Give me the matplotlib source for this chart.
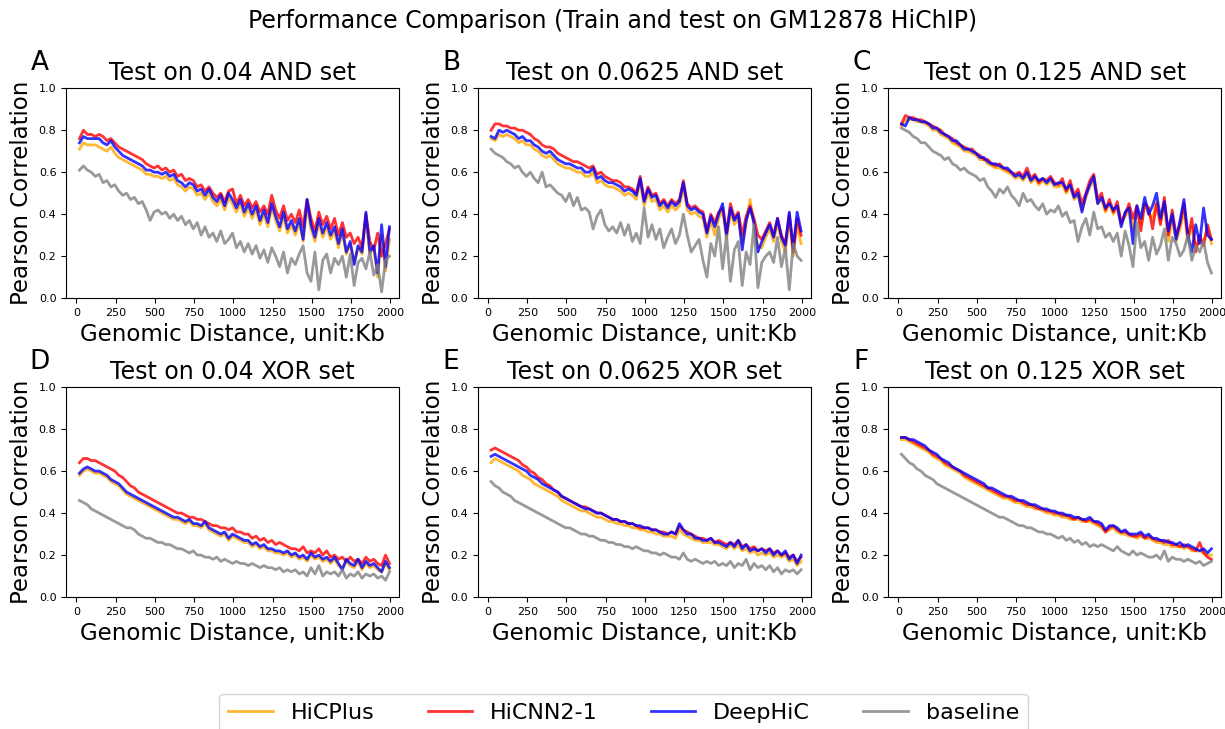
import matplotlib
matplotlib.use("Agg")
import matplotlib.pyplot as plt

# genomic distance bins (Kb)
dist = [20, 45, 70, 95, 120, 145, 170, 195, 220, 245,
        270, 295, 320, 345, 370, 395, 420, 445, 470, 495,
        520, 545, 570, 595, 620, 645, 670, 695, 720, 745,
        770, 795, 820, 845, 870, 895, 920, 945, 970, 995,
        1020, 1045, 1070, 1095, 1120, 1145, 1170, 1195, 1220, 1245,
        1270, 1295, 1320, 1345, 1370, 1395, 1420, 1445, 1470, 1495,
        1520, 1545, 1570, 1595, 1620, 1645, 1670, 1695, 1720, 1745,
        1770, 1795, 1820, 1845, 1870, 1895, 1920, 1945, 1970, 1995]

methods = ["HiCPlus", "HiCNN2-1", "DeepHiC", "baseline"]
colors = ["orange", "red", "blue", "gray"]

# ---- A: 0.04 AND
a_hicplus = [0.71, 0.74, 0.73, 0.73, 0.73, 0.72, 0.71, 0.70, 0.72, 0.69,
             0.67, 0.66, 0.65, 0.64, 0.63, 0.62, 0.61, 0.59, 0.59, 0.58,
             0.58, 0.57, 0.58, 0.56, 0.57, 0.54, 0.53, 0.51, 0.53, 0.52,
             0.49, 0.50, 0.47, 0.50, 0.46, 0.44, 0.47, 0.42, 0.48, 0.45,
             0.41, 0.45, 0.39, 0.43, 0.38, 0.42, 0.35, 0.40, 0.34, 0.43,
             0.37, 0.32, 0.39, 0.31, 0.35, 0.30, 0.36, 0.27, 0.44, 0.33,
             0.27, 0.36, 0.29, 0.34, 0.28, 0.32, 0.24, 0.31, 0.21, 0.26,
             0.17, 0.24, 0.21, 0.38, 0.21, 0.24, 0.10, 0.30, 0.13, 0.28]
a_hicnn = [0.76, 0.80, 0.78, 0.78, 0.77, 0.78, 0.77, 0.75, 0.76, 0.74,
           0.72, 0.71, 0.70, 0.69, 0.68, 0.67, 0.66, 0.64, 0.63, 0.62,
           0.63, 0.61, 0.62, 0.60, 0.61, 0.58, 0.59, 0.56, 0.57, 0.56,
           0.53, 0.54, 0.51, 0.53, 0.50, 0.48, 0.50, 0.46, 0.51, 0.52,
           0.45, 0.49, 0.44, 0.47, 0.43, 0.46, 0.41, 0.44, 0.40, 0.49,
           0.42, 0.38, 0.44, 0.37, 0.40, 0.36, 0.42, 0.34, 0.47, 0.38,
           0.32, 0.41, 0.35, 0.39, 0.33, 0.38, 0.30, 0.36, 0.29, 0.31,
           0.26, 0.29, 0.24, 0.40, 0.27, 0.23, 0.31, 0.20, 0.26, 0.33]
a_deephic = [0.74, 0.77, 0.76, 0.76, 0.76, 0.76, 0.74, 0.73, 0.75, 0.72,
             0.70, 0.68, 0.67, 0.66, 0.65, 0.64, 0.63, 0.61, 0.61, 0.60,
             0.60, 0.59, 0.60, 0.58, 0.59, 0.56, 0.55, 0.53, 0.55, 0.54,
             0.51, 0.52, 0.49, 0.52, 0.48, 0.46, 0.49, 0.44, 0.50, 0.47,
             0.43, 0.47, 0.41, 0.45, 0.40, 0.44, 0.37, 0.42, 0.36, 0.45,
             0.39, 0.34, 0.41, 0.33, 0.37, 0.32, 0.38, 0.28, 0.47, 0.35,
             0.29, 0.38, 0.31, 0.36, 0.30, 0.34, 0.26, 0.33, 0.22, 0.27,
             0.16, 0.25, 0.22, 0.41, 0.22, 0.25, 0.12, 0.35, 0.15, 0.34]
a_base = [0.61, 0.63, 0.61, 0.60, 0.58, 0.59, 0.55, 0.56, 0.53, 0.54,
          0.51, 0.49, 0.50, 0.47, 0.48, 0.45, 0.46, 0.42, 0.37, 0.41,
          0.42, 0.40, 0.41, 0.38, 0.40, 0.37, 0.39, 0.35, 0.37, 0.33,
          0.36, 0.30, 0.34, 0.29, 0.31, 0.27, 0.32, 0.26, 0.28, 0.31,
          0.24, 0.27, 0.22, 0.26, 0.21, 0.25, 0.19, 0.23, 0.17, 0.24,
          0.20, 0.15, 0.22, 0.12, 0.19, 0.16, 0.21, 0.25, 0.12, 0.08,
          0.22, 0.04, 0.18, 0.21, 0.12, 0.19, 0.16, 0.20, 0.10, 0.21,
          0.06, 0.17, 0.19, 0.14, 0.22, 0.11, 0.16, 0.03, 0.18, 0.20]

# ---- B: 0.0625 AND
b_hicplus = [0.76, 0.75, 0.78, 0.77, 0.78, 0.77, 0.76, 0.74, 0.75, 0.73,
             0.73, 0.71, 0.70, 0.68, 0.67, 0.68, 0.66, 0.64, 0.63, 0.62,
             0.62, 0.61, 0.60, 0.60, 0.58, 0.58, 0.60, 0.55, 0.56, 0.54,
             0.53, 0.53, 0.52, 0.51, 0.49, 0.50, 0.49, 0.47, 0.55, 0.44,
             0.50, 0.46, 0.47, 0.42, 0.44, 0.41, 0.44, 0.42, 0.44, 0.53,
             0.42, 0.40, 0.41, 0.39, 0.38, 0.29, 0.37, 0.30, 0.38, 0.42,
             0.28, 0.41, 0.35, 0.38, 0.26, 0.35, 0.47, 0.34, 0.25, 0.24,
             0.29, 0.33, 0.27, 0.36, 0.27, 0.22, 0.38, 0.20, 0.35, 0.26]
b_hicnn = [0.80, 0.83, 0.83, 0.82, 0.82, 0.81, 0.81, 0.80, 0.80, 0.79,
           0.78, 0.76, 0.75, 0.73, 0.72, 0.72, 0.71, 0.69, 0.68, 0.67,
           0.66, 0.65, 0.65, 0.64, 0.63, 0.62, 0.63, 0.59, 0.60, 0.58,
           0.57, 0.56, 0.56, 0.55, 0.53, 0.53, 0.52, 0.50, 0.58, 0.47,
           0.53, 0.49, 0.50, 0.45, 0.47, 0.44, 0.47, 0.45, 0.47, 0.56,
           0.45, 0.43, 0.44, 0.42, 0.41, 0.32, 0.40, 0.36, 0.41, 0.43,
           0.31, 0.45, 0.38, 0.41, 0.30, 0.39, 0.44, 0.38, 0.30, 0.28,
           0.32, 0.36, 0.30, 0.38, 0.30, 0.26, 0.40, 0.22, 0.38, 0.30]
b_deephic = [0.77, 0.76, 0.80, 0.79, 0.80, 0.79, 0.78, 0.76, 0.77, 0.75,
             0.75, 0.73, 0.72, 0.70, 0.69, 0.70, 0.68, 0.66, 0.65, 0.64,
             0.64, 0.63, 0.62, 0.62, 0.60, 0.60, 0.62, 0.57, 0.58, 0.56,
             0.55, 0.55, 0.54, 0.53, 0.51, 0.52, 0.51, 0.49, 0.57, 0.46,
             0.52, 0.48, 0.49, 0.44, 0.46, 0.43, 0.46, 0.44, 0.46, 0.55,
             0.44, 0.42, 0.43, 0.41, 0.40, 0.31, 0.39, 0.34, 0.40, 0.45,
             0.30, 0.43, 0.37, 0.40, 0.23, 0.37, 0.43, 0.36, 0.22, 0.27,
             0.31, 0.35, 0.29, 0.38, 0.29, 0.25, 0.41, 0.24, 0.41, 0.32]
b_base = [0.71, 0.69, 0.68, 0.67, 0.65, 0.64, 0.62, 0.63, 0.60, 0.58,
          0.60, 0.57, 0.55, 0.60, 0.53, 0.54, 0.52, 0.50, 0.49, 0.46,
          0.50, 0.44, 0.48, 0.42, 0.43, 0.41, 0.33, 0.39, 0.42, 0.35,
          0.32, 0.34, 0.31, 0.36, 0.30, 0.35, 0.27, 0.31, 0.26, 0.43,
          0.29, 0.35, 0.28, 0.33, 0.24, 0.29, 0.33, 0.26, 0.30, 0.40,
          0.30, 0.22, 0.25, 0.28, 0.18, 0.10, 0.26, 0.20, 0.34, 0.14,
          0.30, 0.08, 0.23, 0.27, 0.06, 0.22, 0.16, 0.35, 0.05, 0.17,
          0.20, 0.22, 0.17, 0.29, 0.15, 0.24, 0.04, 0.26, 0.20, 0.18]

# ---- C: 0.125 AND
c_hicplus = [0.82, 0.85, 0.85, 0.85, 0.84, 0.84, 0.83, 0.82, 0.80, 0.80,
             0.78, 0.77, 0.76, 0.74, 0.73, 0.72, 0.70, 0.70, 0.69, 0.68,
             0.66, 0.66, 0.64, 0.63, 0.62, 0.62, 0.61, 0.60, 0.59, 0.57,
             0.58, 0.56, 0.59, 0.55, 0.57, 0.54, 0.56, 0.54, 0.56, 0.53,
             0.53, 0.54, 0.50, 0.53, 0.47, 0.49, 0.42, 0.48, 0.53, 0.56,
             0.45, 0.47, 0.41, 0.45, 0.40, 0.43, 0.35, 0.39, 0.43, 0.33,
             0.42, 0.35, 0.45, 0.40, 0.38, 0.46, 0.36, 0.44, 0.27, 0.38,
             0.27, 0.33, 0.42, 0.27, 0.34, 0.24, 0.28, 0.27, 0.33, 0.26]
c_hicnn = [0.83, 0.87, 0.86, 0.86, 0.85, 0.85, 0.84, 0.83, 0.82, 0.81,
           0.80, 0.78, 0.77, 0.76, 0.74, 0.73, 0.72, 0.71, 0.71, 0.69,
           0.68, 0.66, 0.66, 0.64, 0.63, 0.64, 0.62, 0.61, 0.60, 0.59,
           0.60, 0.58, 0.62, 0.57, 0.59, 0.55, 0.57, 0.56, 0.58, 0.55,
           0.54, 0.57, 0.51, 0.56, 0.49, 0.52, 0.45, 0.50, 0.56, 0.59,
           0.47, 0.50, 0.42, 0.47, 0.41, 0.46, 0.36, 0.40, 0.45, 0.38,
           0.44, 0.32, 0.45, 0.43, 0.33, 0.45, 0.35, 0.48, 0.30, 0.42,
           0.30, 0.35, 0.45, 0.28, 0.38, 0.22, 0.30, 0.25, 0.35, 0.28]
c_deephic = [0.83, 0.82, 0.86, 0.85, 0.85, 0.84, 0.84, 0.83, 0.81, 0.81,
             0.79, 0.78, 0.77, 0.75, 0.75, 0.73, 0.71, 0.71, 0.70, 0.69,
             0.67, 0.67, 0.65, 0.64, 0.64, 0.63, 0.62, 0.62, 0.60, 0.58,
             0.59, 0.57, 0.60, 0.56, 0.58, 0.56, 0.57, 0.55, 0.57, 0.54,
             0.55, 0.55, 0.52, 0.54, 0.48, 0.50, 0.41, 0.49, 0.54, 0.58,
             0.45, 0.48, 0.43, 0.45, 0.42, 0.44, 0.34, 0.41, 0.43, 0.26,
             0.44, 0.38, 0.48, 0.40, 0.44, 0.50, 0.38, 0.46, 0.32, 0.40,
             0.28, 0.37, 0.47, 0.30, 0.22, 0.35, 0.26, 0.43, 0.30, 0.28]
c_base = [0.81, 0.80, 0.79, 0.77, 0.76, 0.74, 0.74, 0.72, 0.70, 0.69,
          0.68, 0.66, 0.67, 0.64, 0.63, 0.61, 0.62, 0.60, 0.59, 0.58,
          0.56, 0.57, 0.53, 0.51, 0.48, 0.52, 0.50, 0.53, 0.49, 0.47,
          0.44, 0.50, 0.46, 0.47, 0.44, 0.42, 0.45, 0.40, 0.42, 0.41,
          0.44, 0.39, 0.41, 0.36, 0.37, 0.27, 0.34, 0.38, 0.30, 0.41,
          0.33, 0.34, 0.29, 0.31, 0.27, 0.31, 0.20, 0.32, 0.25, 0.15,
          0.36, 0.24, 0.27, 0.18, 0.29, 0.21, 0.25, 0.33, 0.18, 0.29,
          0.26, 0.20, 0.23, 0.30, 0.18, 0.25, 0.22, 0.27, 0.17, 0.12]

# ---- D: 0.04 XOR
d_hicplus = [0.58, 0.60, 0.61, 0.60, 0.59, 0.59, 0.58, 0.57, 0.55, 0.54,
             0.53, 0.51, 0.49, 0.48, 0.47, 0.46, 0.45, 0.44, 0.43, 0.42,
             0.41, 0.40, 0.39, 0.38, 0.37, 0.37, 0.36, 0.35, 0.36, 0.34,
             0.34, 0.33, 0.35, 0.32, 0.31, 0.30, 0.29, 0.30, 0.27, 0.29,
             0.28, 0.27, 0.26, 0.26, 0.24, 0.25, 0.23, 0.24, 0.22, 0.22,
             0.21, 0.21, 0.20, 0.21, 0.19, 0.20, 0.18, 0.19, 0.17, 0.20,
             0.18, 0.19, 0.17, 0.18, 0.16, 0.18, 0.15, 0.14, 0.17, 0.15,
             0.14, 0.17, 0.13, 0.16, 0.14, 0.15, 0.13, 0.12, 0.16, 0.13]
d_hicnn = [0.64, 0.66, 0.66, 0.65, 0.65, 0.64, 0.63, 0.62, 0.61, 0.60,
           0.58, 0.57, 0.55, 0.53, 0.52, 0.50, 0.49, 0.48, 0.47, 0.46,
           0.45, 0.44, 0.43, 0.42, 0.41, 0.40, 0.40, 0.39, 0.38, 0.38,
           0.37, 0.37, 0.36, 0.35, 0.34, 0.34, 0.33, 0.33, 0.32, 0.33,
           0.31, 0.31, 0.30, 0.30, 0.28, 0.29, 0.27, 0.28, 0.26, 0.27,
           0.25, 0.26, 0.25, 0.24, 0.23, 0.23, 0.22, 0.24, 0.21, 0.22,
           0.21, 0.23, 0.20, 0.22, 0.19, 0.20, 0.18, 0.19, 0.17, 0.19,
           0.17, 0.18, 0.16, 0.19, 0.17, 0.18, 0.16, 0.15, 0.20, 0.16]
d_deephic = [0.59, 0.61, 0.62, 0.61, 0.60, 0.60, 0.59, 0.58, 0.56, 0.55,
             0.54, 0.52, 0.50, 0.49, 0.48, 0.47, 0.46, 0.45, 0.44, 0.43,
             0.42, 0.41, 0.40, 0.39, 0.38, 0.38, 0.37, 0.36, 0.37, 0.35,
             0.35, 0.34, 0.36, 0.33, 0.32, 0.31, 0.30, 0.31, 0.28, 0.30,
             0.29, 0.28, 0.27, 0.27, 0.25, 0.26, 0.24, 0.25, 0.23, 0.23,
             0.22, 0.22, 0.21, 0.22, 0.20, 0.21, 0.19, 0.20, 0.18, 0.21,
             0.19, 0.20, 0.18, 0.19, 0.17, 0.19, 0.16, 0.13, 0.18, 0.16,
             0.15, 0.18, 0.14, 0.17, 0.15, 0.16, 0.14, 0.12, 0.17, 0.14]
d_base = [0.46, 0.45, 0.44, 0.42, 0.41, 0.40, 0.39, 0.38, 0.37, 0.36,
          0.35, 0.34, 0.33, 0.33, 0.32, 0.30, 0.29, 0.28, 0.28, 0.27,
          0.26, 0.26, 0.25, 0.25, 0.24, 0.23, 0.23, 0.22, 0.21, 0.22,
          0.20, 0.20, 0.19, 0.19, 0.18, 0.19, 0.17, 0.18, 0.17, 0.16,
          0.17, 0.16, 0.16, 0.15, 0.16, 0.15, 0.14, 0.15, 0.14, 0.14,
          0.13, 0.14, 0.12, 0.13, 0.12, 0.13, 0.11, 0.12, 0.10, 0.14,
          0.11, 0.15, 0.10, 0.12, 0.11, 0.12, 0.10, 0.13, 0.09, 0.11,
          0.10, 0.12, 0.09, 0.11, 0.10, 0.11, 0.09, 0.10, 0.08, 0.12]

# ---- E: 0.0625 XOR
e_hicplus = [0.64, 0.66, 0.65, 0.64, 0.63, 0.62, 0.61, 0.60, 0.58, 0.57,
             0.56, 0.54, 0.53, 0.52, 0.51, 0.50, 0.49, 0.48, 0.46, 0.45,
             0.44, 0.43, 0.42, 0.41, 0.41, 0.40, 0.39, 0.38, 0.38, 0.37,
             0.36, 0.36, 0.35, 0.35, 0.34, 0.34, 0.33, 0.33, 0.32, 0.32,
             0.31, 0.31, 0.30, 0.30, 0.29, 0.29, 0.29, 0.28, 0.32, 0.30,
             0.29, 0.28, 0.27, 0.27, 0.26, 0.26, 0.26, 0.25, 0.25, 0.24,
             0.23, 0.25, 0.23, 0.25, 0.22, 0.23, 0.21, 0.22, 0.20, 0.21,
             0.20, 0.21, 0.19, 0.20, 0.19, 0.20, 0.17, 0.18, 0.15, 0.17]
e_hicnn = [0.70, 0.71, 0.70, 0.69, 0.68, 0.67, 0.66, 0.65, 0.63, 0.62,
           0.60, 0.59, 0.57, 0.56, 0.54, 0.53, 0.51, 0.50, 0.48, 0.47,
           0.46, 0.45, 0.44, 0.43, 0.43, 0.42, 0.41, 0.40, 0.40, 0.39,
           0.38, 0.37, 0.37, 0.36, 0.36, 0.35, 0.35, 0.34, 0.33, 0.33,
           0.33, 0.32, 0.32, 0.31, 0.31, 0.30, 0.31, 0.30, 0.34, 0.32,
           0.31, 0.30, 0.29, 0.28, 0.28, 0.27, 0.28, 0.26, 0.27, 0.26,
           0.25, 0.26, 0.25, 0.27, 0.24, 0.25, 0.23, 0.24, 0.22, 0.23,
           0.22, 0.23, 0.21, 0.22, 0.20, 0.21, 0.19, 0.20, 0.17, 0.19]
e_deephic = [0.67, 0.68, 0.67, 0.66, 0.65, 0.64, 0.63, 0.62, 0.61, 0.60,
             0.58, 0.57, 0.56, 0.54, 0.53, 0.52, 0.51, 0.50, 0.48, 0.47,
             0.46, 0.45, 0.44, 0.43, 0.42, 0.42, 0.41, 0.40, 0.40, 0.39,
             0.38, 0.37, 0.37, 0.36, 0.36, 0.35, 0.35, 0.34, 0.34, 0.33,
             0.33, 0.32, 0.32, 0.31, 0.30, 0.30, 0.31, 0.30, 0.35, 0.32,
             0.30, 0.30, 0.28, 0.28, 0.27, 0.27, 0.28, 0.26, 0.26, 0.25,
             0.24, 0.26, 0.24, 0.27, 0.23, 0.25, 0.22, 0.23, 0.22, 0.23,
             0.21, 0.23, 0.20, 0.22, 0.20, 0.22, 0.18, 0.20, 0.16, 0.20]
e_base = [0.55, 0.53, 0.52, 0.50, 0.49, 0.48, 0.46, 0.45, 0.44, 0.43,
          0.42, 0.41, 0.40, 0.39, 0.38, 0.37, 0.36, 0.35, 0.34, 0.33,
          0.33, 0.32, 0.31, 0.30, 0.30, 0.29, 0.29, 0.28, 0.27, 0.27,
          0.26, 0.26, 0.25, 0.25, 0.24, 0.24, 0.23, 0.24, 0.23, 0.22,
          0.22, 0.21, 0.21, 0.20, 0.21, 0.20, 0.19, 0.19, 0.18, 0.21,
          0.18, 0.17, 0.18, 0.17, 0.16, 0.17, 0.16, 0.17, 0.15, 0.16,
          0.15, 0.17, 0.14, 0.16, 0.15, 0.18, 0.13, 0.16, 0.14, 0.15,
          0.13, 0.15, 0.12, 0.14, 0.11, 0.13, 0.12, 0.13, 0.11, 0.13]

# ---- F: 0.125 XOR
f_hicplus = [0.75, 0.75, 0.74, 0.73, 0.72, 0.71, 0.70, 0.69, 0.67, 0.66,
             0.65, 0.63, 0.62, 0.61, 0.60, 0.59, 0.57, 0.56, 0.55, 0.54,
             0.53, 0.52, 0.51, 0.50, 0.49, 0.48, 0.47, 0.47, 0.46, 0.45,
             0.45, 0.44, 0.43, 0.43, 0.42, 0.42, 0.41, 0.40, 0.40, 0.39,
             0.39, 0.38, 0.38, 0.37, 0.37, 0.37, 0.36, 0.36, 0.36, 0.35,
             0.34, 0.33, 0.31, 0.32, 0.33, 0.31, 0.30, 0.30, 0.29, 0.29,
             0.28, 0.29, 0.28, 0.28, 0.27, 0.26, 0.26, 0.25, 0.25, 0.24,
             0.24, 0.24, 0.23, 0.24, 0.22, 0.22, 0.22, 0.21, 0.20, 0.20]
f_hicnn = [0.76, 0.76, 0.75, 0.74, 0.73, 0.72, 0.71, 0.70, 0.68, 0.67,
           0.66, 0.64, 0.63, 0.62, 0.61, 0.60, 0.58, 0.57, 0.56, 0.55,
           0.54, 0.53, 0.52, 0.51, 0.50, 0.49, 0.48, 0.48, 0.47, 0.46,
           0.46, 0.45, 0.44, 0.44, 0.43, 0.42, 0.42, 0.41, 0.41, 0.40,
           0.40, 0.39, 0.39, 0.38, 0.37, 0.38, 0.37, 0.36, 0.37, 0.36,
           0.35, 0.34, 0.31, 0.33, 0.34, 0.32, 0.31, 0.31, 0.30, 0.29,
           0.29, 0.30, 0.28, 0.29, 0.28, 0.27, 0.27, 0.26, 0.27, 0.25,
           0.25, 0.24, 0.25, 0.24, 0.23, 0.22, 0.26, 0.21, 0.19, 0.18]
f_deephic = [0.76, 0.76, 0.75, 0.75, 0.74, 0.73, 0.72, 0.70, 0.69, 0.68,
             0.66, 0.65, 0.64, 0.62, 0.61, 0.60, 0.59, 0.58, 0.57, 0.56,
             0.55, 0.54, 0.52, 0.52, 0.51, 0.50, 0.49, 0.48, 0.48, 0.47,
             0.46, 0.46, 0.45, 0.44, 0.44, 0.43, 0.42, 0.42, 0.41, 0.41,
             0.40, 0.40, 0.39, 0.39, 0.38, 0.38, 0.37, 0.37, 0.38, 0.36,
             0.36, 0.35, 0.32, 0.34, 0.34, 0.33, 0.31, 0.32, 0.30, 0.30,
             0.30, 0.31, 0.29, 0.30, 0.28, 0.28, 0.27, 0.27, 0.26, 0.26,
             0.25, 0.26, 0.24, 0.25, 0.24, 0.23, 0.22, 0.23, 0.21, 0.23]
f_base = [0.68, 0.66, 0.64, 0.63, 0.61, 0.60, 0.58, 0.57, 0.56, 0.54,
          0.53, 0.52, 0.51, 0.50, 0.49, 0.48, 0.47, 0.46, 0.45, 0.44,
          0.43, 0.42, 0.41, 0.40, 0.39, 0.38, 0.38, 0.37, 0.36, 0.35,
          0.34, 0.34, 0.33, 0.33, 0.32, 0.31, 0.31, 0.30, 0.30, 0.29,
          0.28, 0.29, 0.27, 0.28, 0.26, 0.27, 0.25, 0.26, 0.24, 0.25,
          0.24, 0.25, 0.24, 0.23, 0.22, 0.24, 0.22, 0.21, 0.20, 0.22,
          0.20, 0.21, 0.20, 0.19, 0.19, 0.20, 0.18, 0.22, 0.17, 0.19,
          0.18, 0.18, 0.17, 0.18, 0.17, 0.16, 0.17, 0.15, 0.16, 0.17]

letters = ["A", "B", "C", "D", "E", "F"]
titles = ["Test on 0.04 AND set", "Test on 0.0625 AND set", "Test on 0.125 AND set",
          "Test on 0.04 XOR set", "Test on 0.0625 XOR set", "Test on 0.125 XOR set"]
panel_data = [
    [a_hicplus, a_hicnn, a_deephic, a_base],
    [b_hicplus, b_hicnn, b_deephic, b_base],
    [c_hicplus, c_hicnn, c_deephic, c_base],
    [d_hicplus, d_hicnn, d_deephic, d_base],
    [e_hicplus, e_hicnn, e_deephic, e_base],
    [f_hicplus, f_hicnn, f_deephic, f_base],
]

fig = plt.figure(figsize=(12.25, 7.29), dpi=100)
fig.suptitle("Performance Comparison (Train and test on GM12878 HiChIP)",
             fontsize=17, y=0.987)

lefts = [0.054, 0.390, 0.725]
bottoms = [0.591, 0.181]
w, h = 0.272, 0.288

handles = []
for i in range(6):
    ax = fig.add_axes([lefts[i % 3], bottoms[i // 3], w, h])
    for series, name, c in zip(panel_data[i], methods, colors):
        ln, = ax.plot(dist, series, color=c, lw=2, alpha=0.8, label=name)
        if i == 0:
            handles.append(ln)
    ax.set_xlim(-65, 2058)
    ax.set_ylim(0, 1.0)
    ax.set_xticks([0, 250, 500, 750, 1000, 1250, 1500, 1750, 2000])
    ax.set_yticks([0.0, 0.2, 0.4, 0.6, 0.8, 1.0])
    ax.tick_params(labelsize=8)
    ax.set_title(titles[i], fontsize=17)
    ax.set_xlabel("Genomic Distance, unit:Kb", fontsize=16.5)
    ax.set_ylabel("Pearson Correlation", fontsize=16.5)
    ax.text(-0.08, 1.06, letters[i], transform=ax.transAxes, fontsize=19,
            ha="center", va="bottom")

fig.legend(handles, methods, loc="upper center", bbox_to_anchor=(0.509, 0.048),
           borderaxespad=0, ncol=4, fontsize=16, columnspacing=2.4)

fig.savefig("out.png", dpi=100)
